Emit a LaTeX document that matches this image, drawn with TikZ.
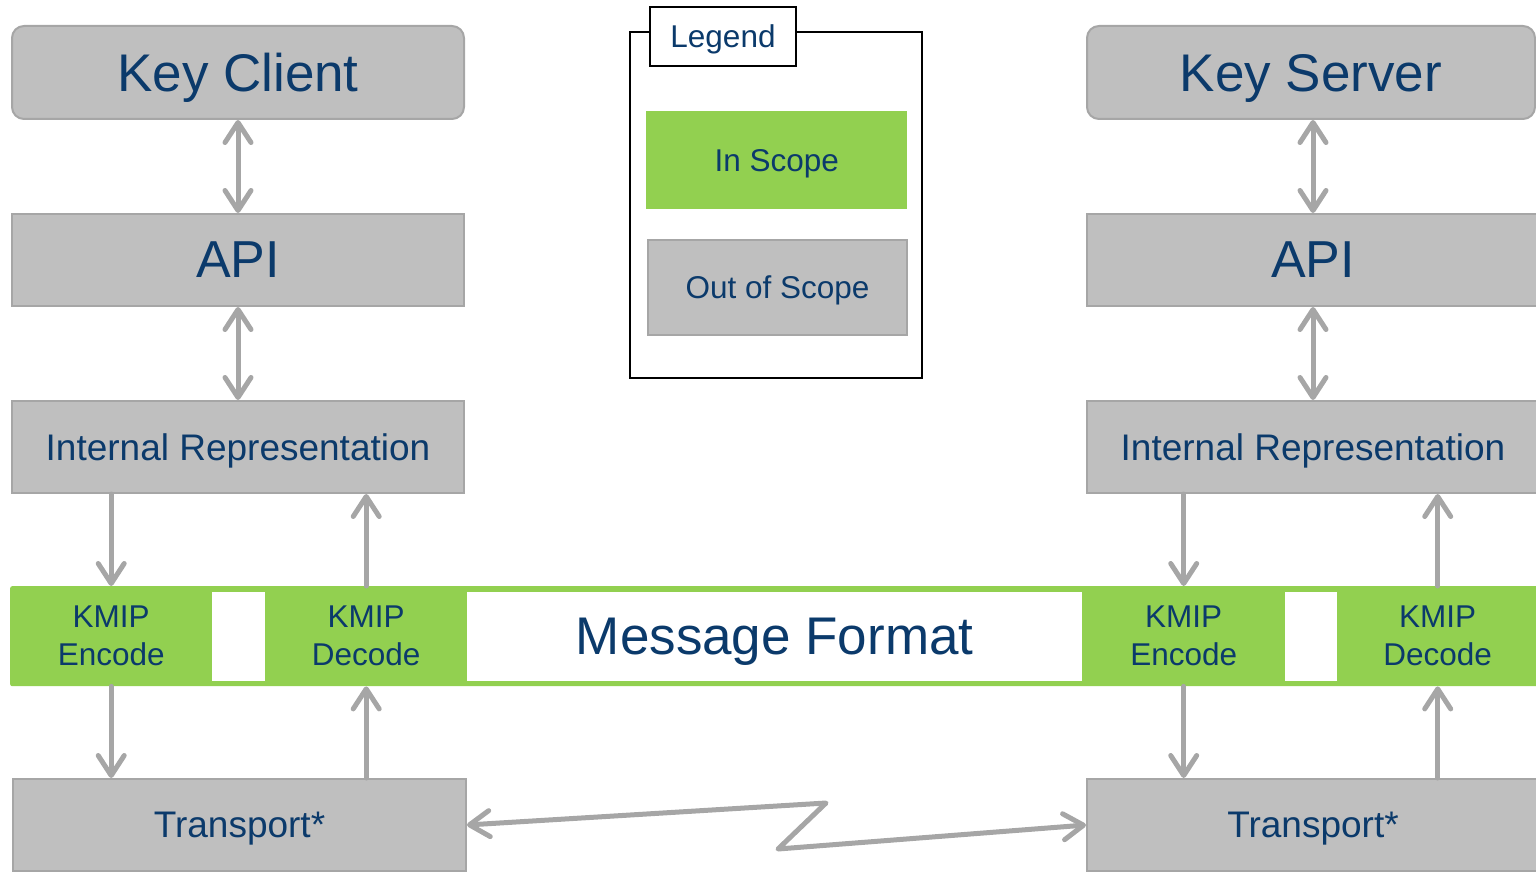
\documentclass[tikz,border=0pt]{standalone}
\usepackage{fontspec}
\setmainfont{Liberation Sans}
\usetikzlibrary{arrows.meta}
\definecolor{boxgray}{HTML}{BFBFBF}
\definecolor{linegray}{HTML}{A6A6A6}
\definecolor{kgreen}{HTML}{92D050}
\definecolor{tblue}{HTML}{0B3A6B}
\newcommand{\fs}[1]{\fontsize{#1}{1.2\dimexpr#1pt\relax}\selectfont}
\tikzset{chev/.tip={Straight Barb[length=20pt,width=26pt,round]}}
\begin{document}
\begin{tikzpicture}[x=1pt,y=-1pt,
  box/.style={inner sep=0pt, anchor=north west, text=tblue, align=center},
  one/.style={text depth=0pt},
  graybox/.style={box, draw=linegray, line width=2pt, fill=boxgray},
  whitebox/.style={box, fill=white},
  legbox/.style={box, draw=black, line width=2pt, fill=white},
  conn/.style={draw=linegray, line width=5pt, line cap=round, line join=round},
  twoway/.style={conn, chev-chev},
  oneway/.style={conn, -chev},
  big/.style={font=\fs{53}, one},
  mid/.style={font=\fs{37}, one},
  small/.style={font=\fontsize{31.5}{38}\selectfont}]
\useasboundingbox (0,0) rectangle (1536,872);

% left stack
\node[graybox, rounded corners=12pt, minimum width=452pt, minimum height=93pt, big] (kc) at (11,25) {Key Client};
\node[graybox, minimum width=452pt, minimum height=92pt, font=\fs{52}, one] (api1) at (11,213) {API};
\node[graybox, minimum width=452pt, minimum height=92pt, mid] (ir1) at (11,400) {Internal Representation};
\node[graybox, minimum width=453pt, minimum height=92pt, mid] (tr1) at (12,778) {Transport*};

% right stack
\node[graybox, rounded corners=12pt, minimum width=448pt, minimum height=93pt, big] (ks) at (1086,25) {Key Server};
\node[graybox, minimum width=452pt, minimum height=92pt, font=\fs{52}, one] (api2) at (1086,213) {API};
\node[graybox, minimum width=452pt, minimum height=92pt, mid] (ir2) at (1086,400) {Internal Representation};
\node[graybox, minimum width=452pt, minimum height=92pt, mid] (tr2) at (1086,778) {Transport*};

% message format band
\node[box, fill=kgreen, rounded corners=2pt, minimum width=1540pt, minimum height=100pt] (band) at (10,586) {};
\node[whitebox, minimum width=53pt, minimum height=89pt] (wa) at (212,592) {};
\node[whitebox, minimum width=615pt, minimum height=89pt, font=\fs{53}, one] (mf) at (467,592) {Message Format};
\node[whitebox, minimum width=52pt, minimum height=89pt] (wb) at (1285,592) {};
\node[box, minimum width=202pt, minimum height=100pt, small] (enc1) at (10,586) {KMIP\\Encode};
\node[box, minimum width=202pt, minimum height=100pt, small] (dec1) at (265,586) {KMIP\\Decode};
\node[box, minimum width=203pt, minimum height=100pt, small] (enc2) at (1082,586) {KMIP\\Encode};
\node[box, minimum width=201pt, minimum height=100pt, small] (dec2) at (1337,586) {KMIP\\Decode};

% legend
\node[legbox, minimum width=292pt, minimum height=346pt] (legend) at (629,31) {};
\node[legbox, minimum width=146pt, minimum height=59pt, small, one] (legtab) at (649,6) {Legend};
\node[box, fill=kgreen, minimum width=261pt, minimum height=98pt, small, one] (inscope) at (646,111) {In Scope};
\node[graybox, minimum width=259pt, minimum height=95pt, small, one] (outscope) at (647,239) {Out of Scope};

% connectors
\draw[twoway] (kc.south) -- (api1.north);
\draw[twoway] (api1.south) -- (ir1.north);
\draw[twoway] (ks.south -| api2.north) -- (api2.north);
\draw[twoway] (api2.south) -- (ir2.north);

\draw[oneway] (ir1.south -| enc1.north) -- (enc1.north);
\draw[oneway] (dec1.north) -- (ir1.south -| dec1.north);
\draw[oneway] (enc1.south) -- (tr1.north -| enc1.south);
\draw[oneway] (tr1.north -| dec1.south) -- (dec1.south);

\draw[oneway] (ir2.south -| enc2.north) -- (enc2.north);
\draw[oneway] (dec2.north) -- (ir2.south -| dec2.north);
\draw[oneway] (enc2.south) -- (tr2.north -| enc2.south);
\draw[oneway] (tr2.north -| dec2.south) -- (dec2.south);

\coordinate (z1) at (826,803);
\coordinate (z2) at (778,849);
\draw[twoway] (tr1.east) -- (z1) -- (z2) -- (tr2.west);
\end{tikzpicture}
\end{document}
